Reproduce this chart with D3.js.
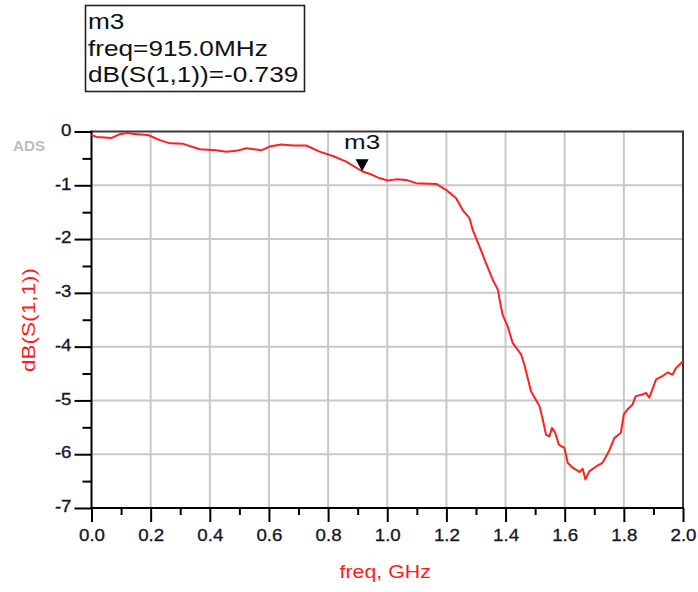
<!DOCTYPE html>
<html><head><meta charset="utf-8">
<script src="https://cdn.jsdelivr.net/npm/d3@7/dist/d3.min.js"></script>
<style>body{margin:0;background:#fff}svg{display:block}text{font-family:"Liberation Sans",Arial,sans-serif}</style>
</head><body>
<svg id="c" width="698" height="592"></svg>
<script>
const freqGHz = [0,0.017,0.045,0.068,0.096,0.118,0.146,0.191,0.231,0.265,0.31,0.366,0.42,0.456,0.49,0.524,0.574,0.602,0.642,0.68,0.726,0.771,0.816,0.861,0.915,0.951,0.975,1.002,1.03,1.064,1.098,1.166,1.2,1.233,1.255,1.278,1.289,1.312,1.334,1.357,1.374,1.38,1.39,1.407,1.424,1.453,1.464,1.486,1.515,1.526,1.537,1.548,1.557,1.568,1.58,1.599,1.61,1.627,1.65,1.661,1.67,1.683,1.711,1.728,1.75,1.768,1.79,1.8,1.812,1.829,1.84,1.863,1.875,1.886,1.909,1.93,1.948,1.965,1.976,2.0];
const dbS11 = [-0.065,-0.1,-0.11,-0.12,-0.05,-0.03,-0.045,-0.065,-0.16,-0.22,-0.23,-0.33,-0.35,-0.375,-0.36,-0.31,-0.35,-0.28,-0.24,-0.26,-0.26,-0.375,-0.455,-0.56,-0.739,-0.81,-0.87,-0.91,-0.89,-0.90,-0.96,-0.975,-1.09,-1.24,-1.46,-1.61,-1.83,-2.14,-2.45,-2.76,-2.94,-3.13,-3.41,-3.62,-3.93,-4.15,-4.34,-4.83,-5.11,-5.36,-5.64,-5.67,-5.51,-5.60,-5.82,-5.88,-6.16,-6.25,-6.33,-6.27,-6.47,-6.32,-6.21,-6.16,-5.94,-5.70,-5.60,-5.26,-5.17,-5.08,-4.92,-4.89,-4.86,-4.95,-4.61,-4.55,-4.48,-4.52,-4.40,-4.27];
const xMajorTicks = [0,0.2,0.4,0.6,0.8,1.0,1.2,1.4,1.6,1.8,2.0];
const xMinorTicks = [0.1,0.3,0.5,0.7,0.9,1.1,1.3,1.5,1.7,1.9];
const yMajorTicks = [0,-1,-2,-3,-4,-5,-6,-7];
const yMinorTicks = [-0.5,-1.5,-2.5,-3.5,-4.5,-5.5,-6.5];
const markerName = "m3";
const markerFreq = 0.915;
const markerValue = -0.739;
const markerLines = ["m3","freq=915.0MHz","dB(S(1,1))=-0.739"];

const svg = d3.select("#c");
const L=91.5, R=683, T=131.5, B=508;
const x = d3.scaleLinear().domain([0,2]).range([L,R]);
const y = d3.scaleLinear().domain([0,-7]).range([T,B]);

function stretch(sel,k){ sel.each(function(){ const w=this.getComputedTextLength(); this.setAttribute("textLength",w*k); this.setAttribute("lengthAdjust","spacingAndGlyphs"); }); }

// grid
svg.append("g").selectAll("line").data(xMajorTicks.slice(1,-1)).join("line")
  .attr("x1",d=>x(d)).attr("x2",d=>x(d)).attr("y1",T).attr("y2",B)
  .attr("stroke","#c8c8c8").attr("stroke-width",2);
svg.append("g").selectAll("line").data(yMajorTicks.slice(1,-1)).join("line")
  .attr("y1",d=>y(d)).attr("y2",d=>y(d)).attr("x1",L).attr("x2",R)
  .attr("stroke","#c8c8c8").attr("stroke-width",2);

// borders
svg.append("line").attr("x1",L).attr("x2",R+1).attr("y1",T).attr("y2",T).attr("stroke","#3a3a3a").attr("stroke-width",2);
svg.append("line").attr("x1",R).attr("x2",R).attr("y1",T).attr("y2",B).attr("stroke","#3a3a3a").attr("stroke-width",2);

// axes
const tickFont = g => g.selectAll("text").attr("font-size",17).attr("fill","#14142a").attr("stroke","#14142a").attr("stroke-width",0.3).attr("font-family","'Liberation Sans',Arial,sans-serif");
const xa = svg.append("g").attr("transform",`translate(0,${B})`)
  .call(d3.axisBottom(x).tickValues(xMajorTicks).tickSize(14).tickSizeOuter(0).tickPadding(7).tickFormat(d=>d.toFixed(1)));
xa.call(tickFont); xa.select(".domain").remove();
xa.selectAll("line").attr("stroke","#000").attr("stroke-width",2);
stretch(xa.selectAll("text"),1.1);
const xm = svg.append("g").attr("transform",`translate(0,${B})`)
  .call(d3.axisBottom(x).tickValues(xMinorTicks).tickSize(7).tickSizeOuter(0).tickFormat(""));
xm.select(".domain").remove(); xm.selectAll("line").attr("stroke","#000").attr("stroke-width",2);

const ya = svg.append("g").attr("transform",`translate(${L},0)`)
  .call(d3.axisLeft(y).tickValues(yMajorTicks).tickSize(17).tickSizeOuter(0).tickPadding(3).tickFormat(d=>String(d)));
ya.call(tickFont); ya.select(".domain").remove();
ya.selectAll("text").attr("dy","0.22em");
ya.selectAll("line").attr("stroke","#000").attr("stroke-width",2);
stretch(ya.selectAll("text"),1.1);
const ym = svg.append("g").attr("transform",`translate(${L},0)`)
  .call(d3.axisLeft(y).tickValues(yMinorTicks).tickSize(9).tickSizeOuter(0).tickFormat(""));
ym.select(".domain").remove(); ym.selectAll("line").attr("stroke","#000").attr("stroke-width",2);

svg.append("line").attr("x1",L).attr("x2",L).attr("y1",T-1).attr("y2",B+1).attr("stroke","#000").attr("stroke-width",2);
svg.append("line").attr("x1",L-1).attr("x2",R+1).attr("y1",B).attr("y2",B).attr("stroke","#000").attr("stroke-width",2);

// curve
const line = d3.line().x((d,i)=>x(freqGHz[i])).y(d=>y(d));
svg.append("path").datum(dbS11).attr("d",line).attr("fill","none").attr("stroke","#ff2020").attr("stroke-width",2).attr("stroke-linejoin","round");

// marker
const mx=x(markerFreq), my=y(markerValue);
svg.append("path").attr("d",`M${mx-6.5},${my-12}L${mx+6.5},${my-12}L${mx},${my}Z`).attr("fill","#000");
const mt = svg.append("text").attr("x",mx).attr("y",my-22).attr("text-anchor","middle").attr("font-size",20).attr("fill","#111").text(markerName);
stretch(mt,1.3);

// marker box
svg.append("rect").attr("x",85.5).attr("y",5.5).attr("width",219).attr("height",86).attr("fill","#fff").attr("stroke","#222").attr("stroke-width",1.6);
const bt = svg.append("g").selectAll("text").data(markerLines).join("text")
  .attr("x",88).attr("y",(d,i)=>29+i*26.5).attr("font-size",22).attr("fill","#111").text(d=>d);
stretch(bt,1.19);

// axis titles
const xt = svg.append("text").attr("x",(L+R)/2-2).attr("y",578).attr("text-anchor","middle").attr("font-size",17.5).attr("fill","#ff1a1a").text("freq, GHz");
stretch(xt,1.22);
const yt = svg.append("text").attr("transform","translate(35,320) rotate(-90)").attr("text-anchor","middle").attr("font-size",19).attr("fill","#ff1a1a").attr("textLength",104).attr("lengthAdjust","spacingAndGlyphs").text("dB(S(1,1))");

const ads = svg.append("text").attr("x",13).attr("y",150.5).attr("font-size",14).attr("font-weight","bold").attr("fill","#bdbdbd").attr("textLength",32).attr("lengthAdjust","spacingAndGlyphs").text("ADS");
</script>
</body></html>
